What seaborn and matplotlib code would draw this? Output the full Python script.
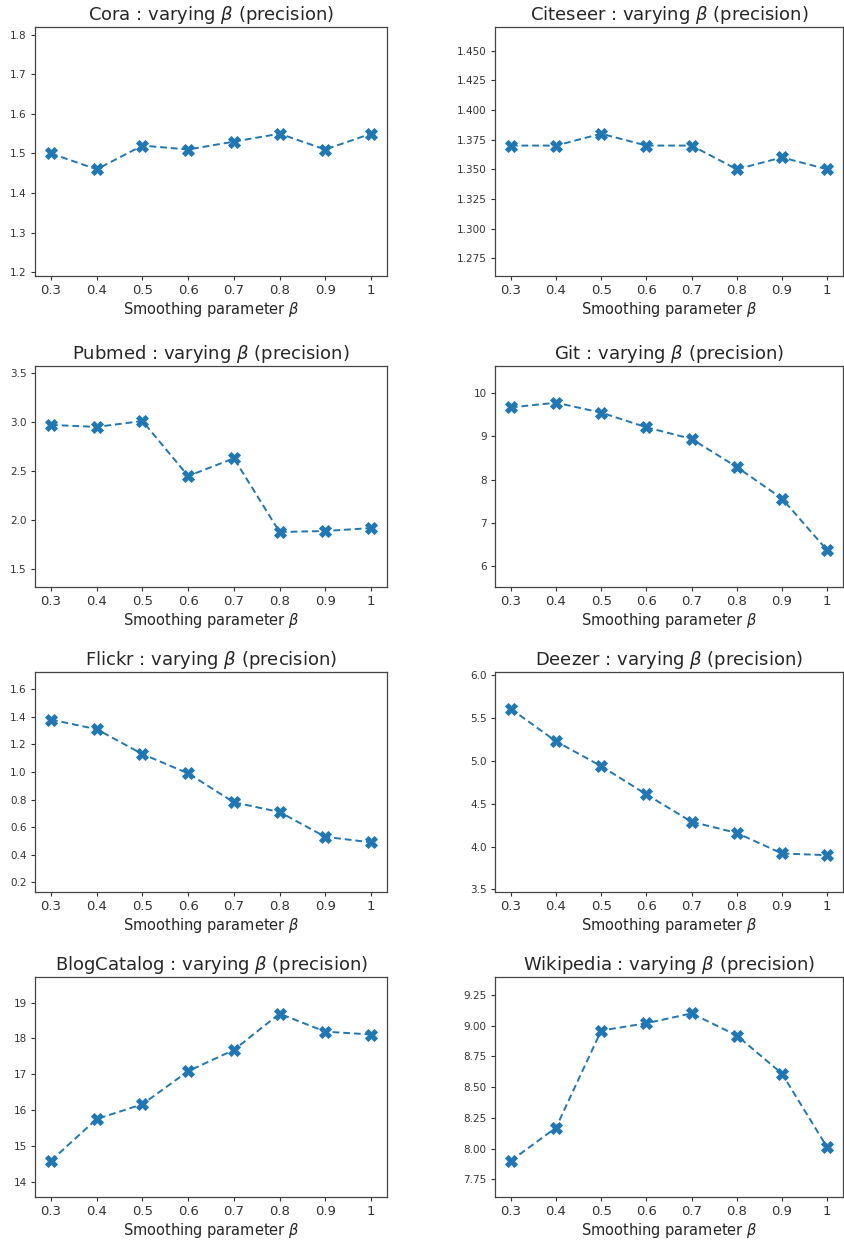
import numpy as np
import pandas as pd
import matplotlib
matplotlib.use('Agg')
import matplotlib.pyplot as plt
import seaborn as sns

betas = [0.3, 0.4, 0.5, 0.6, 0.7, 0.8, 0.9, 1.0]
beta_labels = ['0.3', '0.4', '0.5', '0.6', '0.7', '0.8', '0.9', '1']

cora = [1.50, 1.46, 1.52, 1.51, 1.53, 1.55, 1.51, 1.55]
citeseer = [1.37, 1.37, 1.38, 1.37, 1.37, 1.35, 1.36, 1.35]
pubmed = [2.97, 2.95, 3.01, 2.45, 2.63, 1.88, 1.89, 1.92]
git = [9.67, 9.78, 9.55, 9.21, 8.94, 8.29, 7.56, 6.36]
flickr = [1.38, 1.31, 1.13, 0.99, 0.78, 0.71, 0.53, 0.49]
deezer = [5.61, 5.23, 4.94, 4.61, 4.29, 4.16, 3.92, 3.90]
blogcatalog = [14.60, 15.76, 16.17, 17.09, 17.68, 18.69, 18.19, 18.11]
wikipedia = [7.90, 8.17, 8.96, 9.02, 9.10, 8.92, 8.61, 8.01]

names = ['Cora', 'Citeseer', 'Pubmed', 'Git', 'Flickr', 'Deezer', 'BlogCatalog', 'Wikipedia']
series = [cora, citeseer, pubmed, git, flickr, deezer, blogcatalog, wikipedia]
ylims = [(1.19, 1.82), (1.26, 1.47), (1.32, 3.57), (5.51, 10.63),
         (0.13, 1.725), (3.47, 6.04), (13.59, 19.71), (7.606, 9.396)]
yticks = [np.arange(1.2, 1.81, 0.1), np.arange(1.275, 1.451, 0.025),
          np.arange(1.5, 3.51, 0.5), np.arange(6, 10.1, 1),
          np.arange(0.2, 1.61, 0.2), np.arange(3.5, 6.01, 0.5),
          np.arange(14, 19.1, 1), np.arange(7.75, 9.26, 0.25)]
yfmt = ['%.1f', '%.3f', '%.1f', '%d', '%.1f', '%.1f', '%d', '%.2f']

sns.set_style('ticks')
plt.rcParams['font.family'] = ['DejaVu Sans']
plt.rcParams['mathtext.fontset'] = 'dejavusans'

W, H = 844, 1245
fig = plt.figure(figsize=(W / 100, H / 100), dpi=100)

# axes boxes in pixels: (left, top, right, bottom)
cols = [(35, 387), (495, 843)]
rows = [(27, 276), (366, 587), (672, 892), (977, 1197)]

for i, (name, vals) in enumerate(zip(names, series)):
    r, c = divmod(i, 2)
    l, rt = cols[c]
    t, b = rows[r]
    ax = fig.add_axes([l / W, 1 - b / H, (rt - l) / W, (b - t) / H])
    df = pd.DataFrame({'beta': betas, 'precision': vals})
    sns.lineplot(data=df, x='beta', y='precision', ax=ax, marker='X',
                 markersize=9, linewidth=1.4, color='#1f77b4',
                 markeredgecolor='#1f77b4', markeredgewidth=0.6)
    for ln in ax.get_lines():
        ln.set_linestyle((0, (3.5, 2)))
    ax.set_xticks(betas)
    ax.set_xticklabels(beta_labels, fontsize=9.5)
    ax.set_xlim(0.265, 1.035)
    ax.set_ylim(*ylims[i])
    ax.set_yticks(yticks[i])
    ax.set_yticklabels([yfmt[i] % v for v in yticks[i]], fontsize=7.5)
    ax.set_xlabel(r'Smoothing parameter $\beta$', fontsize=10.5, labelpad=2)
    ax.set_ylabel('')
    ax.set_title(name + r' : varying $\beta$ (precision)', fontsize=13, pad=5)
    for sp in ax.spines.values():
        sp.set_color('#444444')
        sp.set_linewidth(0.9)
    ax.tick_params(colors='#333333', length=3, width=0.8, pad=3)

fig.savefig('out.png', dpi=100)
